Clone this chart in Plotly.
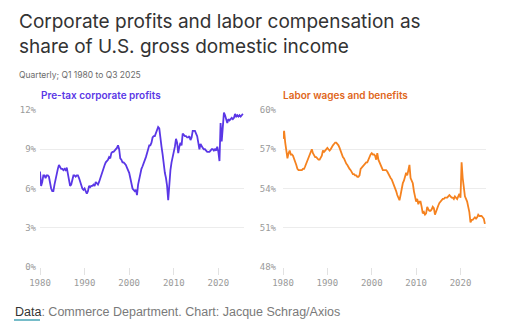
import plotly.graph_objects as go

years = list(range(1980, 2026))

profits = [
    7.3, 6.2, 6.5, 7.0,   # 1980
    7.0, 6.8, 7.0, 7.0,   # 1981
    6.9, 6.4, 6.0, 5.8,   # 1982
    5.8, 6.3, 6.8, 7.1,   # 1983
    7.5, 7.8, 7.6, 7.5,   # 1984
    7.5, 7.4, 7.5, 7.4,   # 1985
    7.6, 7.2, 6.7, 6.2,   # 1986
    6.3, 6.6, 7.0, 7.0,   # 1987
    6.9, 7.0, 7.0, 6.8,   # 1988
    6.5, 6.1, 6.0, 5.9,   # 1989
    6.0, 5.8, 5.6, 5.8,   # 1990
    6.2, 6.1, 6.2, 6.2,   # 1991
    6.3, 6.2, 6.5, 6.4,   # 1992
    6.3, 6.5, 6.8, 7.1,   # 1993
    7.4, 7.6, 7.8, 8.0,   # 1994
    8.1, 8.2, 8.4, 8.3,   # 1995
    8.7, 8.8, 8.8, 8.9,   # 1996
    9.0, 9.1, 9.3, 9.0,   # 1997
    8.3, 8.2, 8.0, 8.0,   # 1998
    7.9, 7.8, 7.6, 7.4,   # 1999
    7.2, 6.8, 6.4, 6.0,   # 2000
    5.9, 5.8, 5.9, 5.5,   # 2001
    6.3, 6.8, 7.2, 7.5,   # 2002
    7.7, 7.9, 8.1, 8.4,   # 2003
    8.7, 9.1, 9.3, 9.3,   # 2004
    9.5, 9.9, 10.0, 10.0, # 2005
    10.3, 10.6, 10.7, 10.6, # 2006
    9.6, 9.2, 8.6, 7.8,   # 2007
    7.2, 6.8, 6.2, 5.1,   # 2008
    6.5, 7.4, 8.0, 8.6,   # 2009
    8.8, 9.2, 9.8, 9.5,   # 2010
    8.7, 9.2, 9.5, 9.3,   # 2011
    10.2, 10.1, 10.0, 10.0, # 2012
    9.9, 9.9, 10.0, 9.7,  # 2013
    9.9, 10.4, 10.4, 10.4, # 2014
    10.2, 10.0, 9.5, 9.0, # 2015
    9.4, 9.2, 9.1, 9.0,   # 2016
    9.0, 8.9, 8.8, 8.8,   # 2017
    8.8, 8.9, 9.0, 9.0,   # 2018
    8.9, 9.0, 8.9, 9.2,   # 2019
    8.8, 8.1, 11.0, 9.6,  # 2020
    10.5, 11.8, 11.6, 11.3, # 2021
    11.0, 11.3, 11.2, 11.3, # 2022
    11.4, 11.3, 11.4, 11.7, # 2023
    11.5, 11.6, 11.5, 11.6, # 2024
    11.5, 11.6, 11.7,       # 2025
]

labor = [
    57.8, 58.4, 57.5, 56.9, # 1980
    56.3, 56.7, 56.9, 56.6, # 1981
    56.6, 56.5, 56.3, 56.0, # 1982
    55.8, 55.5, 55.4, 55.4, # 1983
    55.4, 55.4, 55.5, 55.5, # 1984
    55.7, 55.9, 56.2, 56.4, # 1985
    56.5, 56.8, 57.0, 56.7, # 1986
    56.5, 56.4, 56.4, 56.3, # 1987
    56.2, 56.2, 56.4, 56.5, # 1988
    56.9, 56.8, 56.9, 57.0, # 1989
    57.1, 57.0, 56.9, 57.0, # 1990
    57.2, 57.3, 57.4, 57.5, # 1991
    57.5, 57.4, 57.3, 57.1, # 1992
    56.8, 56.6, 56.4, 56.3, # 1993
    56.0, 55.9, 55.8, 55.6, # 1994
    55.5, 55.4, 55.2, 55.1, # 1995
    55.1, 55.0, 55.0, 54.9, # 1996
    54.9, 55.0, 55.5, 55.6, # 1997
    55.7, 55.8, 55.9, 56.0, # 1998
    56.0, 56.2, 56.5, 56.6, # 1999
    56.7, 56.6, 56.6, 56.5, # 2000
    56.2, 56.7, 56.2, 56.0, # 2001
    55.8, 55.6, 55.4, 55.4, # 2002
    55.4, 55.4, 55.3, 55.1, # 2003
    55.0, 54.8, 54.7, 54.5, # 2004
    54.3, 54.0, 53.8, 53.5, # 2005
    53.3, 53.1, 53.5, 54.0, # 2006
    54.4, 54.6, 55.0, 55.2, # 2007
    55.0, 55.3, 55.8, 54.8, # 2008
    54.6, 54.4, 53.8, 53.4, # 2009
    53.0, 53.2, 52.8, 53.0, # 2010
    53.0, 52.6, 52.1, 52.2, # 2011
    52.0, 52.1, 52.6, 52.4, # 2012
    52.3, 52.3, 52.4, 52.6, # 2013
    52.5, 52.0, 52.3, 52.6, # 2014
    52.7, 52.9, 53.0, 53.1, # 2015
    53.2, 53.2, 53.3, 53.3, # 2016
    53.3, 53.4, 53.5, 53.4, # 2017
    53.3, 53.3, 53.2, 53.4, # 2018
    53.3, 53.2, 53.4, 53.6, # 2019
    53.3, 56.0, 54.8, 53.8, # 2020
    53.4, 53.2, 53.0, 52.6, # 2021
    52.2, 51.4, 51.6, 51.6, # 2022
    51.7, 51.8, 51.7, 51.8, # 2023
    52.0, 51.9, 51.9, 51.9, # 2024
    51.8, 51.7, 51.3,       # 2025
]

quarters = [y + q / 4 for y in years for q in range(4)][:len(profits)]

tick_years = [1980, 1990, 2000, 2010, 2020]
left_ticks = [0, 3, 6, 9, 12]
right_ticks = [48, 51, 54, 57, 60]

PURPLE = "#5a37e6"
ORANGE = "#f5821f"
ORANGE_TXT = "#e0661a"
GRID = "#ececec"
TICKFONT = dict(family="DejaVu Sans Mono", size=9, color="#9a9a9a")

fig = go.Figure()
fig.add_trace(go.Scatter(x=quarters, y=profits, mode="lines",
                         line=dict(color=PURPLE, width=1.8), xaxis="x", yaxis="y",
                         hoverinfo="skip", showlegend=False))
fig.add_trace(go.Scatter(x=quarters, y=labor, mode="lines",
                         line=dict(color=ORANGE, width=1.8), xaxis="x2", yaxis="y2",
                         hoverinfo="skip", showlegend=False))

W, H = 508, 332
def px_x(p):
    return p / W
def px_y(p):
    return 1 - p / H

xr = [1980, 2025.75]
common_x = dict(range=xr, tickvals=tick_years, ticktext=[str(t) for t in tick_years],
                showgrid=False, zeroline=False, showline=False, ticks="outside",
                ticklen=7, tickcolor="#e2e2e2", tickwidth=1, tickfont=TICKFONT,
                automargin=False, fixedrange=True)
common_y = dict(showgrid=True, gridcolor=GRID, gridwidth=1, zeroline=False,
                showline=False, ticks="", tickfont=TICKFONT, automargin=False,
                fixedrange=True)
fig.update_layout(
    width=W, height=H,
    margin=dict(l=0, r=0, t=0, b=0, autoexpand=False),
    paper_bgcolor="white", plot_bgcolor="white",
    xaxis=dict(domain=[px_x(40), px_x(244)], anchor="y", **common_x),
    xaxis2=dict(domain=[px_x(283), px_x(486)], anchor="y2", **common_x),
    yaxis=dict(domain=[px_y(267), px_y(110)], anchor="x", range=[0, 12],
               tickvals=left_ticks, ticktext=[f"{v}%" for v in left_ticks],
               ticklabelstandoff=3, **common_y),
    yaxis2=dict(domain=[px_y(267), px_y(110)], anchor="x2", range=[48, 60],
                tickvals=right_ticks, ticktext=[f"{v}%" for v in right_ticks],
                ticklabelstandoff=6, **common_y),
    showlegend=False,
)

annotations = [
    dict(text="Corporate profits and labor compensation as<br>share of U.S. gross domestic income",
         x=px_x(17), y=px_y(8), xanchor="left", yanchor="top", align="left",
         font=dict(family="Inter", size=19, color="#333333")),
    dict(text="Quarterly; Q1 1980 to Q3 2025",
         x=px_x(17), y=px_y(75), xanchor="left", yanchor="middle",
         font=dict(family="Inter", size=8.5, color="#6b6b6b")),
    dict(text="Pre-tax corporate profits",
         x=px_x(39), y=px_y(95), xanchor="left", yanchor="middle",
         font=dict(family="Inter", size=10, color=PURPLE, weight=600)),
    dict(text="Labor wages and benefits",
         x=px_x(281), y=px_y(95), xanchor="left", yanchor="middle",
         font=dict(family="Inter", size=10, color=ORANGE_TXT, weight=600)),
    dict(text="<span style='color:#333333'>Data</span>: Commerce Department. Chart: Jacque Schrag/Axios",
         x=px_x(13), y=px_y(312), xanchor="left", yanchor="middle",
         font=dict(family="Liberation Sans", size=12.5, color="#7a7a7a")),
]
for a in annotations:
    a.update(xref="paper", yref="paper", showarrow=False)
fig.update_layout(annotations=annotations)

fig.add_shape(type="line", xref="paper", yref="paper",
              x0=px_x(14), x1=px_x(40), y0=px_y(320), y1=px_y(320),
              line=dict(color="#1b8fa6", width=1.2))

fig.write_html("out.html")
